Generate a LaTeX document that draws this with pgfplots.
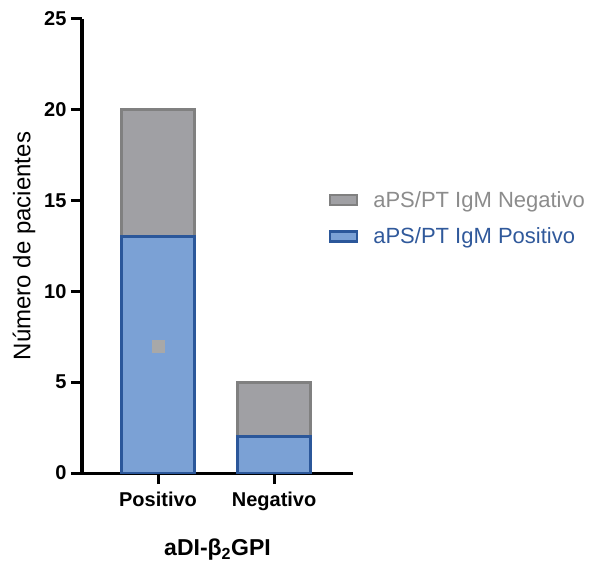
\documentclass[border=0pt]{standalone}
\usepackage{pgfplots}
\pgfplotsset{compat=1.18}
\usepackage{fontspec}
\setmainfont{Liberation Sans}
\definecolor{grayfill}{HTML}{A0A0A4}
\definecolor{grayline}{HTML}{808080}
\definecolor{bluefill}{HTML}{7BA1D5}
\definecolor{blueline}{HTML}{2B579A}
\definecolor{leggray}{HTML}{8C8C8C}
\definecolor{legblue}{HTML}{30599B}
\definecolor{markgray}{HTML}{A8A8A8}
\begin{document}
\begin{tikzpicture}
\useasboundingbox (-82pt,-92pt) rectangle (511pt,473pt);
\begin{axis}[
  scale only axis, width=271pt, height=454pt,
  xmin=-0.655, xmax=1.68, ymin=0, ymax=25,
  axis x line*=bottom, axis y line*=left,
  axis line style={line width=3pt, black},
  ytick={0,5,10,15,20,25}, xtick={0,1}, xticklabels={Positivo,Negativo},
  tick align=outside, major tick length=11pt,
  every tick/.style={line width=3pt, black},
  ybar stacked, bar width=73pt,
  /pgf/number format/assume math mode=true,
  yticklabel style={font=\bfseries\fontsize{20}{20}\selectfont, xshift=-1pt},
  xticklabel style={font=\bfseries\fontsize{20}{20}\selectfont, yshift=-4pt},
  ylabel={Número de pacientes},
  ylabel style={font=\fontsize{24}{24}\selectfont, yshift=2pt},
  xlabel={aDI-β\textsubscript{2}GPI},
  xlabel style={font=\bfseries\fontsize{23}{23}\selectfont, yshift=-22pt},
  reverse legend,
  legend cell align=left,
  legend style={draw=none, fill=none, at={(0.91,0.625)}, anchor=north west,
    row sep=15pt, column sep=13pt, font=\fontsize{22}{22}\selectfont, inner sep=0pt},
]
\addplot[fill=bluefill, draw=blueline, line width=3pt,
  legend image code/.code={\draw[fill=bluefill, draw=blueline, line width=2.5pt] (0pt,-5pt) rectangle (27pt,5pt);}]
  coordinates {(0,13) (1,2)};
\addlegendentry{\textcolor{legblue}{aPS/PT IgM Positivo}}
\addplot[fill=grayfill, draw=grayline, line width=3pt,
  legend image code/.code={\draw[fill=grayfill, draw=grayline, line width=2.5pt] (0pt,-5pt) rectangle (27pt,5pt);}]
  coordinates {(0,7) (1,3)};
\addlegendentry{\textcolor{leggray}{aPS/PT IgM Negativo}}
\end{axis}
\begin{axis}[
  scale only axis, width=271pt, height=454pt,
  xmin=-0.655, xmax=1.68, ymin=0, ymax=25,
  hide axis,
]
\addplot[only marks, mark=square*, mark size=6pt, color=markgray] coordinates {(0,7)};
\end{axis}
\end{tikzpicture}
\end{document}
